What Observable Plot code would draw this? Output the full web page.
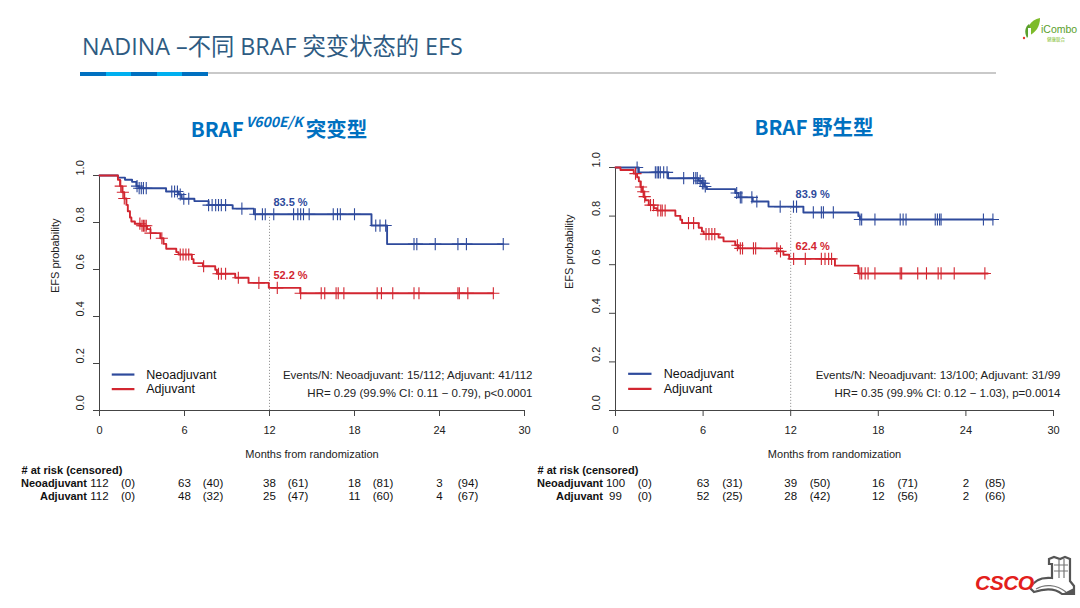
<!DOCTYPE html>
<html>
<head>
<meta charset="utf-8">
<script src="https://cdn.jsdelivr.net/npm/d3@7"></script>
<script src="https://cdn.jsdelivr.net/npm/@observablehq/plot@0.6"></script>
<style>
  body { margin:0; width:1080px; height:608px; background:#fff; position:relative; overflow:hidden;
         font-family:"Liberation Sans", Arial, sans-serif; }
  .abs { position:absolute; }
  #title { left:82px; top:35px; font-family:"Open Sans","Noto Sans CJK SC",sans-serif; font-size:23.3px;
           color:#2e5b82; white-space:nowrap; line-height:1; }
  .seg { position:absolute; top:72px; height:4px; }
  #rule { left:208px; top:72px; width:788px; height:1.5px; background:#c9c9c9; }
  .ctitle { font-family:"Noto Sans CJK SC",sans-serif; font-weight:700; font-size:20.5px; color:#0070c0;
            white-space:nowrap; line-height:1; transform:translateX(-50%); }
  .ctitle sup { font-style:italic; font-size:14px; font-weight:700; position:relative; top:-2px; margin-left:2px; margin-right:3px;}
</style>
</head>
<body>
<div id="title" class="abs">NADINA –不同 BRAF 突变状态的 EFS</div>
<div class="seg" style="left:80px;width:25.6px;background:#0070c0"></div>
<div class="seg" style="left:105.6px;width:25.6px;background:#00b0f0"></div>
<div class="seg" style="left:131.2px;width:25.6px;background:#0070c0"></div>
<div class="seg" style="left:156.8px;width:25.6px;background:#00b0f0"></div>
<div class="seg" style="left:182.4px;width:25.6px;background:#0070c0"></div>
<div id="rule" class="abs"></div>

<div class="abs ctitle" style="left:279px;top:116px">BRAF<sup>V600E/K</sup>突变型</div>
<div class="abs ctitle" style="left:814px;top:116px">BRAF 野生型</div>

<!-- iCombo logo -->
<svg class="abs" style="left:1018px;top:14px" width="62" height="32" viewBox="0 0 62 32">
  <path d="M10 22 C8 14 12 6 22 4 C22 12 18 19 10 22 Z" fill="#7dbb2a"/>
  <path d="M9 24 C6 18 7 13 11 10 C13 15 12 20 9 24 Z" fill="#5aa02c"/>
  <rect x="10" y="14" width="3" height="10" fill="#fff"/>
  <circle cx="6" cy="24" r="1.2" fill="#e53a2f"/>
  <text x="23" y="19" font-family="Liberation Sans, Arial" font-size="10.5" fill="#5aa02c">iCombo</text>
  <text x="29" y="27" font-family="Noto Sans CJK SC" font-size="4.5" fill="#7dbb2a">健康联合</text>
</svg>
<!-- CSCO logo -->
<svg class="abs" style="left:970px;top:548px" width="110" height="56" viewBox="0 0 110 56">
  <path d="M60 40 C64 32 72 29 82 30 L82 16 L79 16 L79 11 L84 9 L90 11 L95 9 L100 11 L100 33 L104 38 L104 46 L92 46 C86 41 76 40 64 44 Z" fill="none" stroke="#555" stroke-width="2.2"/>
  <path d="M84 17 L98 17 M84 23 L98 23 M89 11 L89 30 M94 11 L94 30 M66 41 C74 36 86 36 96 44" stroke="#777" stroke-width="1.2" fill="none"/>
  <path d="M92 46 L104 46 L104 40 Z" fill="#555"/>
  <text x="5" y="42" font-family="Liberation Sans, Arial" font-weight="bold" font-style="italic" font-size="21" fill="#e3201b" letter-spacing="-0.5">CSCO</text>
</svg>

<div id="c1" class="abs" style="left:0px;top:140px"></div>
<div id="t1" class="abs" style="left:0px;top:462px"></div>
<div id="c2" class="abs" style="left:520px;top:140px"></div>
<div id="t2" class="abs" style="left:520px;top:462px"></div>

<script>
// ---------- shared ----------
const groups = ["Neoadjuvant", "Adjuvant"];
const groupColors = ["#2e4a9c", "#d22630"];
const monthTicks = [0, 6, 12, 18, 24, 30];
const probTicks = [0, 0.2, 0.4, 0.6, 0.8, 1.0];
const riskMonths = [0, 6, 12, 18, 24];

// ---------- BRAF V600E/K mutant ----------
const mutNeoTime = [0, 1.3, 1.8, 2.3, 2.6, 2.8, 4.7, 5.6, 5.8, 6.7, 7.7, 9.4, 10.9, 19.2, 20.3, 28.5];
const mutNeoSurv = [1, 0.991, 0.982, 0.973, 0.955, 0.946, 0.932, 0.919, 0.901, 0.891, 0.874, 0.859, 0.835, 0.787, 0.708, 0.708];
const mutNeoCensor = [2.65, 2.8, 2.95, 3.1, 3.3, 5.1, 5.3, 5.5, 5.7, 5.95, 6.3, 7.7, 7.95, 8.2, 8.4, 8.6, 8.9, 10.05,
  11.0, 11.5, 11.7, 12.3, 13.7, 14.0, 14.2, 14.4, 14.8, 16.5, 16.8, 17.0, 18.0, 19.5, 19.8, 20.2, 22.2, 22.4, 23.7, 25.3, 25.9, 28.5];
const mutAdjTime = [0, 1.3, 1.45, 1.6, 1.75, 1.9, 2.0, 2.15, 2.25, 2.5, 2.9, 3.35, 3.6, 4.29, 4.52, 4.71, 5.42, 5.58,
  6.52, 6.64, 7.3, 8.17, 8.29, 9.58, 10.52, 11.95, 14.17, 27.8];
const mutAdjSurv = [1, 0.982, 0.955, 0.929, 0.902, 0.875, 0.848, 0.821, 0.804, 0.795, 0.786, 0.772, 0.755, 0.733, 0.709, 0.688, 0.674, 0.664,
  0.644, 0.627, 0.614, 0.599, 0.582, 0.565, 0.543, 0.522, 0.499, 0.499];
const mutAdjCensor = [1.5, 1.65, 1.75, 2.85, 3.0, 3.1, 3.2, 3.3, 3.6, 4.4, 5.7, 5.9, 6.1, 6.3, 7.35, 8.4, 8.6, 8.9, 9.8,
  11.25, 12.55, 14.2, 15.65, 15.9, 16.7, 16.85, 17.25, 19.6, 19.9, 20.7, 22.2, 22.55, 25.3, 25.4, 26.0, 27.8];
const mutAtRiskNeo = [112, 63, 38, 18, 3];
const mutCensoredNeo = [0, 40, 61, 81, 94];
const mutAtRiskAdj = [112, 48, 25, 11, 4];
const mutCensoredAdj = [0, 32, 47, 60, 67];
const mutEvents = "Events/N: Neoadjuvant: 15/112; Adjuvant: 41/112";
const mutHR = "HR= 0.29 (99.9% CI: 0.11 \u2212 0.79), p<0.0001";

// ---------- BRAF wild-type ----------
const wtNeoTime = [0, 1.6, 3.6, 5.7, 5.9, 6.08, 6.26, 8.2, 8.43, 9.4, 10.48, 12.87, 16.63, 16.74, 25.85];
const wtNeoSurv = [1, 0.98, 0.956, 0.945, 0.935, 0.922, 0.911, 0.895, 0.877, 0.86, 0.839, 0.815, 0.80, 0.786, 0.786];
const wtNeoCensor = [1.48, 2.73, 2.85, 2.95, 3.07, 3.3, 3.53, 4.67, 5.35, 5.5, 5.6, 5.8, 5.95, 6.05, 6.15, 8.3, 8.55, 8.65,
  9.34, 9.68, 11.28, 12.19, 12.4, 13.55, 14.1, 14.24, 14.92, 16.74, 16.86, 17.77, 19.5, 19.7, 19.9, 21.9, 22.05, 22.2, 22.3, 25.2, 25.85];
const wtAdjTime = [0, 0.34, 1.25, 1.48, 1.6, 1.71, 1.82, 1.94, 2.05, 2.28, 2.62, 2.85, 4.1, 4.44, 4.56, 5.7, 5.92, 6.04,
  7.06, 7.4, 8.2, 8.43, 11.16, 11.5, 11.9, 15.03, 16.63, 25.5];
const wtAdjSurv = [1, 0.99, 0.975, 0.96, 0.943, 0.92, 0.90, 0.88, 0.865, 0.845, 0.832, 0.823, 0.801, 0.785, 0.771, 0.752, 0.737, 0.726,
  0.712, 0.696, 0.68, 0.667, 0.655, 0.641, 0.624, 0.596, 0.564, 0.564];
const wtAdjCensor = [1.37, 1.75, 1.9, 2.0, 2.4, 2.6, 2.9, 3.1, 3.2, 3.4, 5.0, 5.35, 6.2, 6.4, 6.6, 6.8, 8.35, 8.55, 8.7, 9.45, 9.6,
  11.05, 11.3, 12.2, 13.0, 14.1, 14.35, 14.6, 14.8, 16.74, 16.86, 17.1, 17.3, 17.77, 19.5, 19.6, 20.7, 21.3, 22.1, 22.3, 23.2, 25.3];
const wtAtRiskNeo = [100, 63, 39, 16, 2];
const wtCensoredNeo = [0, 31, 50, 71, 85];
const wtAtRiskAdj = [99, 52, 28, 12, 2];
const wtCensoredAdj = [0, 25, 42, 56, 66];
const wtEvents = "Events/N: Neoadjuvant: 13/100; Adjuvant: 31/99";
const wtHR = "HR= 0.35 (99.9% CI: 0.12 \u2212 1.03), p=0.0014";

const FONT = "Liberation Sans, Arial, Helvetica, sans-serif";

function stepAt(T, S, t) {
  let v = S[0];
  for (let i = 0; i < T.length; i++) if (T[i] <= t) v = S[i];
  return v;
}

function curvePlot(c) {
  const series = groups.map((g, i) => ({g, T: c.times[i], S: c.surv[i], C: c.censor[i]}));
  const lineData = series.flatMap(s => s.T.map((t, j) => ({g: s.g, t, s: s.S[j]})));
  const censData = series.flatMap(s => s.C.map(t => ({g: s.g, t, s: stepAt(s.T, s.S, t)})));
  const at12 = series.map(s => ({g: s.g, t: 12, s: stepAt(s.T, s.S, 12)}));
  return Plot.plot({
    width: c.width, height: 330,
    marginLeft: c.ml, marginRight: c.mr, marginTop: c.mt, marginBottom: 60,
    x: {domain: [0, 30], label: null},
    y: {domain: [0, 1], label: null},
    color: {domain: groups, range: groupColors},
    style: {fontFamily: FONT, fontSize: "11px", color: "#222", background: "transparent", overflow: "visible"},
    marks: [
      Plot.ruleX([12], {y1: 0, y2: at12[0].s, stroke: "#9a9a9a", strokeDasharray: "1.2,1.8", strokeWidth: 1}),
      Plot.ruleY([0], {x1: 0, x2: 30, stroke: "#444", strokeWidth: 1}),
      Plot.ruleX([0], {y1: 0, y2: 1, stroke: "#444", strokeWidth: 1}),
      Plot.axisX(monthTicks, {tickSize: 6, tickPadding: 10, tickFormat: d => d, stroke: "#444", fill: "#222", fontSize: 11, label: null}),
      Plot.axisY(probTicks, {tickSize: 6, tickFormat: () => "", stroke: "#444", label: null}),
      Plot.text(probTicks, {y: d => d, frameAnchor: "left", dx: -19, rotate: -90, text: d => d.toFixed(1), fontSize: 11, fill: "#222"}),
      Plot.text(["EFS probability"], {frameAnchor: "left", dx: c.ylabDx, rotate: -90, fontSize: 11, fill: "#222"}),
      Plot.text(["Months from randomization"], {frameAnchor: "bottom", dy: 47, fontSize: 11, fill: "#222"}),
      Plot.line(lineData, {x: "t", y: "s", stroke: "g", z: "g", curve: "step-after", strokeWidth: 1.9}),
      Plot.dot(censData, {x: "t", y: "s", stroke: "g", symbol: "plus", r: 4, strokeWidth: 1.1}),
      Plot.text(at12, {x: "t", y: "s", text: d => (d.s * 100).toFixed(1) + " %", fill: "g", dx: c.pctDx, dy: -12, fontWeight: "bold", fontSize: 11}),
      Plot.ruleY(groups, {y: (d, i) => c.legY[i], x1: 0.9, x2: 2.5, stroke: d => d, strokeWidth: 2.2}),
      Plot.text(groups, {y: (d, i) => c.legY[i], x: 3.3, text: d => d, textAnchor: "start", fontSize: 12.5, fill: "#111"}),
      Plot.text([c.events], {frameAnchor: "bottom-right", dx: c.evDx, dy: -32, textAnchor: "end", fontSize: 11.5, fill: "#222"}),
      Plot.text([c.hr], {frameAnchor: "bottom-right", dx: c.evDx, dy: -13.5, textAnchor: "end", fontSize: 11.5, fill: "#222"})
    ]
  });
}

function tablePlot(c) {
  const rows = ["# at risk (censored)", ...groups];
  const data = groups.flatMap((g, i) => riskMonths.map((m, j) => ({g, m, n: c.atRisk[i][j], cen: c.censored[i][j]})));
  return Plot.plot({
    width: c.width, height: 42,
    marginLeft: c.ml, marginRight: c.mr, marginTop: 0, marginBottom: 0,
    x: {domain: [0, 30], axis: null},
    y: {type: "point", domain: rows, range: [7.5, 33.7], padding: 0, axis: null},
    style: {fontFamily: FONT, fontSize: "11px", color: "#111", background: "transparent", overflow: "visible"},
    marks: [
      Plot.text(data, {x: "m", y: "g", text: d => String(d.n), fontSize: 11.5, fill: "#111"}),
      Plot.text(data, {x: "m", y: "g", text: d => `(${d.cen})`, dx: c.cenDx, fontSize: 11.5, fill: "#111"}),
      Plot.text(groups, {x: 0, y: d => d, text: d => d, textAnchor: "end", dx: -12.5, fontWeight: "bold", fontSize: 11, fill: "#111"}),
      Plot.text([rows[0]], {x: 0, y: d => d, text: d => d, textAnchor: "start", dx: -78, fontWeight: "bold", fontSize: 11, fill: "#111"})
    ]
  });
}

const left = {
  width: 545, ml: 99, mr: 21, mt: 35, ylabDx: -44, pctDx: 21, evDx: 8, legY: [0.153, 0.091], cenDx: 28.5,
  times: [mutNeoTime, mutAdjTime], surv: [mutNeoSurv, mutAdjSurv], censor: [mutNeoCensor, mutAdjCensor],
  atRisk: [mutAtRiskNeo, mutAtRiskAdj], censored: [mutCensoredNeo, mutCensoredAdj],
  events: mutEvents, hr: mutHR
};
const right = {
  width: 560, ml: 95, mr: 27, mt: 27, ylabDx: -46, pctDx: 22, evDx: 7, legY: [0.151, 0.089], cenDx: 29.3,
  times: [wtNeoTime, wtAdjTime], surv: [wtNeoSurv, wtAdjSurv], censor: [wtNeoCensor, wtAdjCensor],
  atRisk: [wtAtRiskNeo, wtAtRiskAdj], censored: [wtCensoredNeo, wtCensoredAdj],
  events: wtEvents, hr: wtHR
};

document.getElementById("c1").appendChild(curvePlot(left));
document.getElementById("t1").appendChild(tablePlot(left));
document.getElementById("c2").appendChild(curvePlot(right));
document.getElementById("t2").appendChild(tablePlot(right));
</script>
</body>
</html>
